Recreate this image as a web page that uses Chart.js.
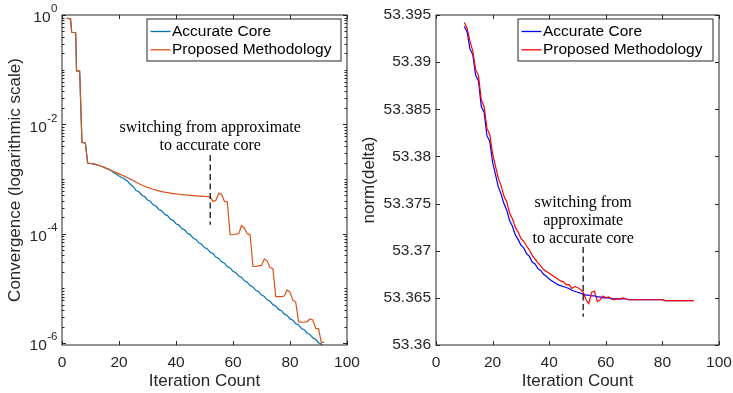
<!DOCTYPE html>
<html>
<head>
<meta charset="utf-8">
<script src="https://cdn.jsdelivr.net/npm/chart.js@4.4.1/dist/chart.umd.min.js"></script>
<style>
  body { margin: 0; background: #fff; }
  canvas { position: absolute; top: 0; }
  #graficoConv { left: 0; }
  #graficoNorm { left: 355px; }
</style>
</head>
<body>
<canvas id="graficoConv" width="372" height="393"></canvas>
<canvas id="graficoNorm" width="378" height="393"></canvas>
<script>
// --- convergencia (escala log): iteraciones y log10 del valor ---
const convIter = [1.6, 3, 3.4, 4.8, 5.1, 6.2, 7, 8.2, 9,
  10, 11, 12, 13, 14, 15, 16, 17, 18, 19, 20, 21, 22, 23, 24, 25, 26, 27, 28, 29,
  30, 31, 32, 33, 34, 35, 36, 37, 38, 39, 40, 41, 42, 43, 44, 45, 46, 47, 48, 49,
  50, 51, 52, 53, 54, 55, 56, 57, 58, 59, 60, 61, 62, 63, 64, 65, 66, 67, 68, 69,
  70, 71, 72, 73, 74, 75, 76, 77, 78, 79, 80, 81, 82, 83, 84, 85, 86, 87, 88, 89,
  90, 91, 92];
const convAccurateExp = [-0.06, -0.07, -0.317, -0.325, -1.018, -1.03, -2.33, -2.34, -2.71,
  -2.716, -2.724, -2.738, -2.752, -2.772, -2.792, -2.814, -2.838, -2.880, -2.908,
  -2.944, -2.972, -3.000, -3.040, -3.100, -3.140, -3.210, -3.234, -3.297, -3.321,
  -3.384, -3.408, -3.471, -3.495, -3.558, -3.582, -3.645, -3.669, -3.732, -3.756,
  -3.819, -3.843, -3.906, -3.930, -3.993, -4.017, -4.080, -4.104, -4.167, -4.191,
  -4.254, -4.278, -4.341, -4.365, -4.428, -4.452, -4.515, -4.539, -4.602, -4.626,
  -4.689, -4.713, -4.776, -4.800, -4.863, -4.887, -4.950, -4.974, -5.037, -5.061,
  -5.124, -5.148, -5.211, -5.235, -5.298, -5.322, -5.385, -5.409, -5.472, -5.496,
  -5.559, -5.583, -5.646, -5.670, -5.733, -5.757, -5.820, -5.844, -5.907, -5.931,
  -5.994, -6.018, -6.081];
const convProposedExp = [-0.06, -0.07, -0.317, -0.325, -1.018, -1.03, -2.33, -2.34, -2.71,
  -2.716, -2.724, -2.738, -2.752, -2.772, -2.792, -2.814, -2.838, -2.862, -2.884,
  -2.906, -2.928, -2.952, -2.976, -3.002, -3.028, -3.060, -3.086, -3.110, -3.132,
  -3.152, -3.170, -3.188, -3.204, -3.218, -3.230, -3.241, -3.250, -3.258, -3.266,
  -3.273, -3.279, -3.285, -3.290, -3.295, -3.300, -3.304, -3.308, -3.312, -3.316,
  -3.319, -3.322, -3.325, -3.410, -3.390, -3.260, -3.280, -3.410, -3.420, -4.020,
  -4.020, -4.010, -4.000, -3.850, -3.900, -4.000, -4.020, -4.600, -4.600, -4.590,
  -4.580, -4.460, -4.500, -4.620, -4.640, -5.150, -5.150, -5.150, -5.140, -5.030,
  -5.070, -5.220, -5.250, -5.610, -5.620, -5.620, -5.610, -5.560, -5.580, -5.730,
  -5.740, -5.990, -5.990];
const convDecades = [-6, -4, -2, 0];

// --- norm(delta) por iteracion ---
const normIter = [10, 11, 12, 13, 14, 15, 16, 17, 18, 19, 20, 21, 22, 23, 24, 25, 26, 27, 28, 29,
  30, 31, 32, 33, 34, 35, 36, 37, 38, 39, 40, 41, 42, 43, 44, 45, 46, 47, 48, 49,
  50, 51, 52, 53, 54, 55, 56, 57, 58, 59, 60, 61, 62, 63, 64, 65, 66, 67, 68, 69,
  70, 71, 72, 73, 74, 75, 76, 77, 78, 79, 80, 81, 82, 83, 84, 85, 86, 87, 88, 89,
  90, 91];
const normAccurate = [53.3938, 53.3932, 53.3914, 53.3908, 53.3886, 53.3880, 53.3853, 53.3847, 53.3822, 53.3816,
  53.3794, 53.3781, 53.3768, 53.3760, 53.3750, 53.3743, 53.3732, 53.3726, 53.3717, 53.3712,
  53.3706, 53.3703, 53.3697, 53.3694, 53.3688, 53.3686, 53.3681, 53.3679, 53.3675, 53.3673,
  53.3670, 53.3668, 53.3666, 53.3664, 53.3663, 53.3662, 53.3661, 53.3660, 53.3658, 53.3657,
  53.3656, 53.3655, 53.3654, 53.3653, 53.3653, 53.3652, 53.3652, 53.3651, 53.3651, 53.3650,
  53.3650, 53.3650, 53.3649, 53.3649, 53.3649, 53.3649, 53.3649, 53.3649, 53.3648, 53.3648,
  53.3648, 53.3648, 53.3648, 53.3648, 53.3648, 53.3648, 53.3648, 53.3648, 53.3648, 53.3648,
  53.3648, 53.3647, 53.3647, 53.3647, 53.3647, 53.3647, 53.3647, 53.3647, 53.3647, 53.3647,
  53.3647, 53.3647];
const normProposed = [53.3942, 53.3936, 53.3922, 53.3912, 53.3892, 53.3886, 53.3860, 53.3853, 53.3830, 53.3823,
  53.3803, 53.3790, 53.3777, 53.3769, 53.3758, 53.3752, 53.3740, 53.3734, 53.3725, 53.3720,
  53.3713, 53.3710, 53.3705, 53.3701, 53.3695, 53.3691, 53.3687, 53.3684, 53.3680, 53.3678,
  53.3676, 53.3674, 53.3672, 53.3670, 53.3668, 53.3667, 53.3664, 53.3664, 53.3660, 53.3662,
  53.3661, 53.3659, 53.3656, 53.3648, 53.3644, 53.3656, 53.3657, 53.3646, 53.3648, 53.3652,
  53.3650, 53.3651, 53.3649, 53.3648, 53.3649, 53.3649, 53.3650, 53.3649, 53.3648, 53.3648,
  53.3648, 53.3648, 53.3648, 53.3648, 53.3648, 53.3648, 53.3648, 53.3648, 53.3648, 53.3648,
  53.3648, 53.3647, 53.3647, 53.3647, 53.3647, 53.3647, 53.3647, 53.3647, 53.3647, 53.3647,
  53.3647, 53.3647];
const normTicks = [53.36, 53.365, 53.37, 53.375, 53.38, 53.385, 53.39, 53.395];

const iterTicks = [0, 20, 40, 60, 80, 100];
const switchIter = 52;

const SANS = "'Liberation Sans', Arial, sans-serif";
const SERIF = "'Liberation Serif', 'Times New Roman', serif";
const INK = '#262626';

Chart.defaults.font.family = SANS;
Chart.defaults.color = INK;

const puntos = (xs, ys) => ys.map((v, i) => ({ x: xs[i], y: v }));

// caja, marcas hacia dentro, leyenda y nota del cambio de nucleo
const ejesMatlab = {
  id: 'ejesMatlab',
  afterDatasetsDraw(chart, args, opts) {
    const { ctx, chartArea: a, scales: { x, y } } = chart;
    ctx.save();

    // linea discontinua en el cambio
    const sx = x.getPixelForValue(switchIter);
    ctx.strokeStyle = '#000';
    ctx.lineWidth = 1.2;
    ctx.setLineDash([6, 3.5]);
    ctx.beginPath();
    ctx.moveTo(sx, y.getPixelForValue(opts.dash[0]));
    ctx.lineTo(sx, y.getPixelForValue(opts.dash[1]));
    ctx.stroke();
    ctx.setLineDash([]);

    ctx.fillStyle = '#000';
    ctx.font = '16px ' + SERIF;
    ctx.textAlign = 'center';
    ctx.textBaseline = 'middle';
    const ty = y.getPixelForValue(opts.noteAt);
    opts.note.forEach((line, i) => ctx.fillText(line, sx, ty + i * 18));

    // caja
    ctx.strokeStyle = INK;
    ctx.lineWidth = 1;
    ctx.strokeRect(a.left, a.top, a.right - a.left, a.bottom - a.top);

    ctx.beginPath();
    iterTicks.forEach(v => {
      const px = Math.round(x.getPixelForValue(v)) + 0.5;
      ctx.moveTo(px, a.bottom); ctx.lineTo(px, a.bottom - 4);
      ctx.moveTo(px, a.top); ctx.lineTo(px, a.top + 4);
    });
    if (opts.log) {
      for (let d = -7; d <= 0; d++) {
        for (let k = 1; k <= 9; k++) {
          const v = k * Math.pow(10, d);
          if (v < y.min || v > y.max) continue;
          const py = Math.round(y.getPixelForValue(v)) + 0.5;
          const len = (k === 1 && convDecades.includes(d)) ? 4 : 2.5;
          ctx.moveTo(a.left, py); ctx.lineTo(a.left + len, py);
          ctx.moveTo(a.right, py); ctx.lineTo(a.right - len, py);
        }
      }
    } else {
      normTicks.forEach(v => {
        const py = Math.round(y.getPixelForValue(v)) + 0.5;
        ctx.moveTo(a.left, py); ctx.lineTo(a.left + 4, py);
        ctx.moveTo(a.right, py); ctx.lineTo(a.right - 4, py);
      });
    }
    ctx.stroke();

    // etiquetas 10^k
    if (opts.log) {
      ctx.fillStyle = INK;
      ctx.textAlign = 'right';
      convDecades.forEach(d => {
        const py = y.getPixelForValue(Math.pow(10, d));
        const exp = String(d);
        ctx.font = '11.5px ' + SANS;
        const ew = ctx.measureText(exp).width;
        ctx.fillText(exp, a.left - 4.5, py - 6);
        ctx.font = '15.5px ' + SANS;
        ctx.fillText('10', a.left - 5 - ew, py + 3);
      });
    }

    // leyenda
    const lg = opts.legend;
    const lx = a.right - 6 - lg.width, ly = a.top + 4;
    ctx.fillStyle = '#fff';
    ctx.fillRect(lx, ly, lg.width, lg.height);
    ctx.strokeStyle = INK;
    ctx.lineWidth = 1;
    ctx.strokeRect(lx, ly, lg.width, lg.height);
    ctx.font = '15.5px ' + SANS;
    ctx.textAlign = 'left';
    ctx.textBaseline = 'middle';
    chart.data.datasets.forEach((ds, i) => {
      const ry = ly + 12.5 + i * 18.3;
      ctx.strokeStyle = ds.borderColor;
      ctx.lineWidth = 1.3;
      ctx.beginPath();
      ctx.moveTo(lx + 3.5, ry); ctx.lineTo(lx + 23.5, ry);
      ctx.stroke();
      ctx.fillStyle = '#000';
      ctx.fillText(ds.label, lx + 25, ry);
    });

    ctx.restore();
  }
};

// sin margen extra por las etiquetas de los extremos
const sinRelleno = s => {
  s.paddingLeft = 0; s.paddingRight = 0;
  s.paddingTop = 0; s.paddingBottom = 0;
};

const ejeX = {
  type: 'linear', min: 0, max: 100,
  afterBuildTicks: s => { s.ticks = iterTicks.map(v => ({ value: v })); },
  ticks: { padding: 8, font: { size: 15.5 }, maxRotation: 0 },
  grid: { display: false, drawTicks: false },
  border: { display: false },
  title: { display: true, text: 'Iteration Count', font: { size: 17 }, padding: { top: 0, bottom: 1 } },
  afterFit: s => { s.height = 48; sinRelleno(s); }
};

new Chart(document.getElementById('graficoConv'), {
  type: 'line',
  data: {
    datasets: [{
      label: 'Accurate Core',
      data: puntos(convIter, convAccurateExp.map(e => Math.pow(10, e))),
      borderColor: '#0072BD',
      order: 1
    }, {
      label: 'Proposed Methodology',
      data: puntos(convIter, convProposedExp.map(e => Math.pow(10, e))),
      borderColor: '#D95319',
      order: 0
    }]
  },
  options: {
    responsive: false,
    animation: false,
    elements: { point: { radius: 0 }, line: { borderWidth: 1.2, tension: 0 } },
    layout: { padding: { left: 0, right: 25, top: 15, bottom: 0 } },
    plugins: {
      legend: { display: false },
      tooltip: { enabled: false },
      ejesMatlab: {
        log: true,
        dash: [2.75e-3, 1.45e-4],
        noteAt: 8.7e-3,
        note: ['switching from approximate', 'to accurate core'],
        legend: { width: 194, height: 42 }
      }
    },
    scales: {
      x: ejeX,
      y: {
        type: 'logarithmic', min: 9.2e-7, max: 1,
        ticks: { display: false },
        grid: { display: false, drawTicks: false },
        border: { display: false },
        title: { display: true, text: 'Convergence (logarithmic scale)', font: { size: 17 }, padding: { top: 5 } },
        afterFit: s => { s.width = 62; sinRelleno(s); }
      }
    }
  },
  plugins: [ejesMatlab]
});

new Chart(document.getElementById('graficoNorm'), {
  type: 'line',
  data: {
    datasets: [{
      label: 'Accurate Core',
      data: puntos(normIter, normAccurate),
      borderColor: '#0000FF',
      order: 1
    }, {
      label: 'Proposed Methodology',
      data: puntos(normIter, normProposed),
      borderColor: '#FF0000',
      order: 0
    }]
  },
  options: {
    responsive: false,
    animation: false,
    elements: { point: { radius: 0 }, line: { borderWidth: 1.2, tension: 0 } },
    layout: { padding: { left: 0, right: 14, top: 15, bottom: 0 } },
    plugins: {
      legend: { display: false },
      tooltip: { enabled: false },
      ejesMatlab: {
        log: false,
        dash: [53.3704, 53.3630],
        noteAt: 53.3751,
        note: ['switching from', 'approximate', 'to accurate core'],
        legend: { width: 195, height: 42 }
      }
    },
    scales: {
      x: ejeX,
      y: {
        type: 'linear', min: 53.36, max: 53.395,
        afterBuildTicks: s => { s.ticks = normTicks.map(v => ({ value: v })); },
        ticks: {
          padding: 5,
          font: { size: 15.5 },
          callback: v => String(parseFloat(v.toFixed(3)))
        },
        grid: { display: false, drawTicks: false },
        border: { display: false },
        title: { display: true, text: 'norm(delta)', font: { size: 17 }, padding: { top: 4 } },
        afterFit: s => { s.width = 81; sinRelleno(s); }
      }
    }
  },
  plugins: [ejesMatlab]
});
</script>
</body>
</html>
